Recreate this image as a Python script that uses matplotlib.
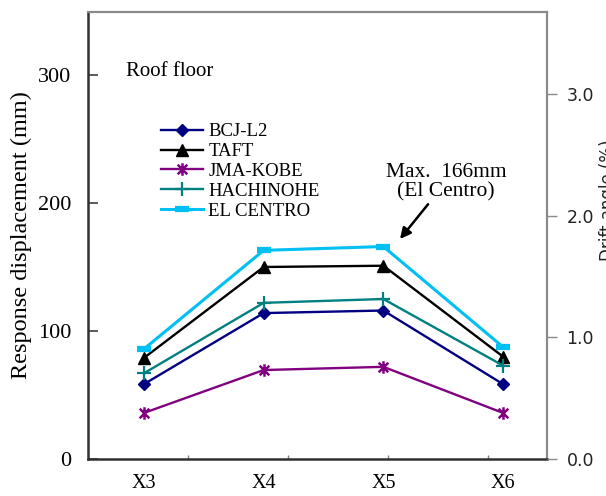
import matplotlib
matplotlib.use("Agg")
import matplotlib.pyplot as plt
from matplotlib.path import Path
import numpy as np

categories = ["X3", "X4", "X5", "X6"]
bcj_l2 = [58.5, 114, 116, 58.5]
taft = [79, 150, 151, 80]
jma_kobe = [36, 69.5, 72, 36]
hachinohe = [67, 122, 125, 73]
el_centro = [86, 163, 166, 87.5]
left_ticks = [0, 100, 200, 300]
right_ticks = [0.0, 1.0, 2.0, 3.0]

W, H = 606, 496
fig = plt.figure(figsize=(W / 100, H / 100), dpi=100)
L, R, T, B = 88, 547, 12, 459
ax = fig.add_axes([L / W, (H - B) / H, (R - L) / W, (B - T) / H])

serif = "Liberation Serif"
x = np.arange(1, len(categories) + 1)

star = Path([(-1, -1), (1, 1), (-1, 1), (1, -1), (0, -1.3), (0, 1.3)],
            [Path.MOVETO, Path.LINETO, Path.MOVETO, Path.LINETO, Path.MOVETO, Path.LINETO])

series = [
    ("BCJ-L2", bcj_l2, "#000080", dict(marker="D", ms=6.5, mew=1)),
    ("TAFT", taft, "#000000", dict(marker="^", ms=9, mew=1)),
    ("JMA-KOBE", jma_kobe, "#800080", dict(marker=star, ms=9, mew=1.8, mfc="none")),
    ("HACHINOHE", hachinohe, "#008080", dict(marker="+", ms=10, mew=1.6)),
    ("EL CENTRO", el_centro, "#00BFF3", dict(marker="_", ms=10, mew=4.5)),
]
for name, vals, col, mk in series:
    lw = 2.2 if name == "EL CENTRO" else 1.7
    ax.plot(x, vals, color=col, lw=lw, label=name, mec=col,
            mfc=mk.pop("mfc", col), **mk, clip_on=False)

ax.set_xlim(1 - (144 - L) / 119.67, 1 + (R - 144) / 119.67)
ax.set_ylim(0, (B - T) / 1.28)
ax.set_yticks(left_ticks)
ax.set_yticklabels([str(v) for v in left_ticks], fontfamily=serif, fontsize=16)
ax.tick_params(axis="y", direction="in", length=7, width=1.2, pad=12, color="#404040")
ax.set_xticks(x)
ax.set_xticklabels(categories, fontfamily=serif, fontsize=14.5)
ax.tick_params(axis="x", which="major", length=0, pad=11)
ax.set_xticks([1.368, 2.204, 3.039, 3.875], minor=True)
ax.tick_params(axis="x", which="minor", direction="in", length=3, width=1, color="#808080")
ax.set_ylabel("Response displacement (mm)", fontfamily=serif, fontsize=17.5, labelpad=4)

for s in ["left", "bottom"]:
    ax.spines[s].set_color("#303030")
    ax.spines[s].set_linewidth(1.8)
for s in ["top", "right"]:
    ax.spines[s].set_color("#8a8a8a")
    ax.spines[s].set_linewidth(1.6)

ax2 = ax.twinx()
ax2.set_ylim(0, (B - T) / 121.7)
ax2.set_yticks(right_ticks)
ax2.set_yticklabels([f"{v:.1f}" for v in right_ticks], fontfamily="DejaVu Sans", fontsize=12.5, color="#222222")
ax2.tick_params(axis="y", direction="out", length=7, width=1, color="#8a8a8a", pad=7)
for s in ax2.spines.values():
    s.set_visible(False)
fig.text(599 / W, (H - 200) / H, "Drift angle (%)", rotation=90, ha="left", va="center",
         fontfamily="DejaVu Sans", fontsize=12, color="#222222")

ax.text((126 - L) / (R - L), (B - 71) / (B - T), "Roof floor", transform=ax.transAxes,
        fontfamily=serif, fontsize=15, va="center", ha="left")

leg = ax.legend(loc="upper left", bbox_to_anchor=((152 - L) / (R - L), (B - 114) / (B - T)),
                frameon=False, prop={"family": serif, "size": 13.5},
                handlelength=2.2, handletextpad=0.3, labelspacing=0.14, borderpad=0)

ax.annotate("Max.  166mm\n(El Centro)", xy=(1 + (400 - 144) / 119.67, (B - 239) / 1.28),
            xytext=(1 + (446 - 144) / 119.67, (B - 182) / 1.28),
            ha="center", va="center", fontfamily=serif, fontsize=15.5, linespacing=1.05,
            arrowprops=dict(arrowstyle="-|>", color="black", lw=1.8, mutation_scale=16,
                            shrinkA=0, shrinkB=0, relpos=(0.5, 0.5)))

fig.savefig("out.png", dpi=100)
